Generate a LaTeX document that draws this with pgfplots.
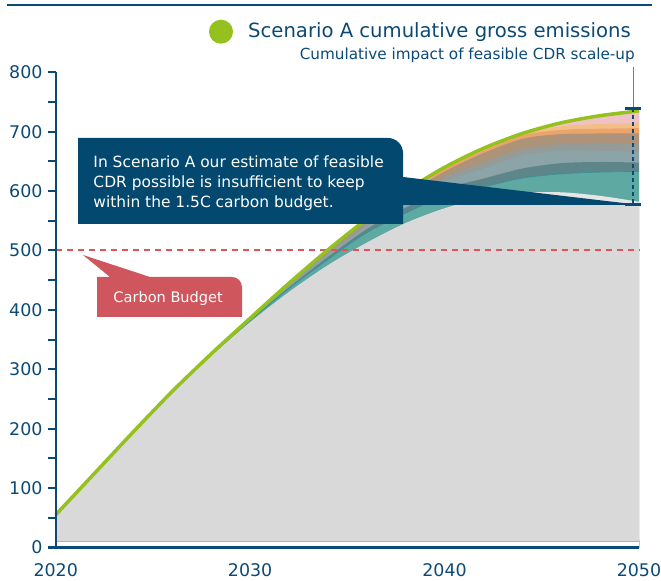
\documentclass[border=0pt]{standalone}
\usepackage{fontspec}
\setmainfont{DejaVu Sans}
\usepackage{pgfplots}
\usepackage{pgfplotstable}
\pgfplotsset{compat=1.18}
\definecolor{dblue}{HTML}{0B4A76}
\definecolor{cbox}{HTML}{03496F}
\definecolor{egreen}{HTML}{95C11F}
\definecolor{rbox}{HTML}{CF565C}
\definecolor{rdash}{HTML}{E4525A}
\definecolor{lpink}{HTML}{F0C2C5}
\definecolor{lorange}{HTML}{F3BF89}
\definecolor{morange}{HTML}{ECA46A}
\definecolor{brownl}{HTML}{AD937A}
\definecolor{grayl}{HTML}{959C97}
\definecolor{bluegray}{HTML}{8CA3A7}
\definecolor{slate}{HTML}{5E868A}
\definecolor{tealA}{HTML}{5FA9A3}
\definecolor{tealline}{HTML}{3B9296}
\definecolor{lband}{HTML}{E6E6E6}
\definecolor{bgray}{HTML}{D9D9D9}
\definecolor{thinline}{HTML}{5E82A0}
\definecolor{edgeline}{HTML}{E9EDDA}

% cumulative emissions boundaries (c9 = gross emissions, c0 = net after CDR)
\pgfplotstableread{
year c0  c1  c2  c3  c4  c5  c6  c7  c8  c9
2020 55  55  55  55  55  55  55  55  55  55
2022 125 125 125 125 125 125 125 125 125 125
2024 195 195 195 195 195 195 195 195 195 195
2026 261 261 262 262 262 262 263 263 263 263
2028 322 322 324 324 325 325 326 326 326 326
2030 379 379 382 383 384 385 386 386 386 386
2032 430 430 436 438 440 442 444 445 445 445
2034 475 475 485 489 493 496 499 500 501 501
2036 513 513 530 536 541 545 549 551 553 553
2038 546 546 563 572 580 586 593 597 600 600
2040 570 571 592 604 616 624 633 637 640 640
2042 585 588 607 621 638 648 664 668 672 672
2044 590 597 622 638 660 671 688 694 697 697
2046 589 598 629 647 668 679 696 703 709 715
2048 584 592 632 649 668 681 697 705 713 727
2050 576 582 633 648 666 680 697 706 714 735
}\cdr

\begin{document}
\begin{tikzpicture}
\path[use as bounding box] (0,0) rectangle (661bp,581bp);
\begin{axis}[
  at={(55.7bp,33.5bp)}, anchor=south west,
  scale only axis, width=583.3bp, height=475.2bp,
  xmin=2020, xmax=2050, ymin=0, ymax=800,
  axis lines*=left,
  axis line style={line width=2bp, draw=dblue},
  xtick={2020,2030,2040,2050}, ytick={0,100,...,800},
  minor ytick={50,150,...,750},
  xtick style={draw=none},
  ytick style={line width=2bp, draw=dblue},
  tick align=outside, major tick length=8bp, minor tick length=8bp,
  tick label style={font=\fontsize{17.5}{17.5}\selectfont, text=dblue},
  /pgf/number format/assume math mode=true,
  /pgf/number format/1000 sep={},
  xticklabel style={anchor=base, inner sep=0pt, yshift=-21bp},
  yticklabel style={anchor=east, inner sep=0pt, xshift=-5bp},
  clip=false, axis on top,
]
\addplot[draw=none, fill=lpink, smooth] table[x=year,y=c9]{\cdr} \closedcycle;
\addplot[draw=none, fill=lorange, smooth] table[x=year,y=c8]{\cdr} \closedcycle;
\addplot[draw=none, fill=morange, smooth] table[x=year,y=c7]{\cdr} \closedcycle;
\addplot[draw=none, fill=brownl, smooth] table[x=year,y=c6]{\cdr} \closedcycle;
\addplot[draw=none, fill=grayl, smooth] table[x=year,y=c5]{\cdr} \closedcycle;
\addplot[draw=none, fill=bluegray, smooth] table[x=year,y=c4]{\cdr} \closedcycle;
\addplot[draw=none, fill=slate, smooth] table[x=year,y=c3]{\cdr} \closedcycle;
\addplot[draw=none, fill=tealA, smooth] table[x=year,y=c2]{\cdr} \closedcycle;
\addplot[draw=none, fill=lband, smooth] table[x=year,y=c1]{\cdr} \closedcycle;
\addplot[draw=none, fill=bgray, smooth] table[x=year,y=c0]{\cdr} \closedcycle;
\addplot[draw=none, fill=white] coordinates {(2020,11) (2050,11)} \closedcycle;
\addplot[draw=black!30, line width=0.8bp] coordinates {(2020,11) (2050,11)};
\addplot[tealline, line width=0.8bp, smooth] table[x=year,y=c2]{\cdr};
\addplot[edgeline, line width=1bp] coordinates {(2050,12) (2050,735)};
\addplot[rdash, line width=2bp, dash pattern=on 6bp off 5bp] coordinates {(2020,500) (2050,500)};
\addplot[egreen, line width=3.5bp, smooth] table[x=year,y=c9]{\cdr};
\end{axis}
\begin{scope}[shift={(0,581bp)}, x=1bp, y=-1bp]
\draw[dblue, line width=1.3bp] (7,5) -- (652,5);
\fill[egreen] (221,31.7) circle (12bp);
\node[anchor=base west, inner sep=0pt, text=dblue, font=\fontsize{19.7}{20}\selectfont] at (248,37.3) {Scenario A cumulative gross emissions};
\node[anchor=base east, inner sep=0pt, text=dblue, font=\fontsize{15.3}{16}\selectfont] at (635,60) {Cumulative impact of feasible CDR scale-up};
\draw[thinline, line width=1bp] (633,67) -- (633,108);
% blue callout
\fill[cbox] (78,224) -- (78,138) [rounded corners=15bp] -- (403,138) [sharp corners] -- (403,177) -- (640,205) -- (403,205) -- (403,224) -- cycle;
\node[anchor=base west, inner sep=0pt, text=white, font=\fontsize{15.5}{16}\selectfont] at (93.3,167.3) {In Scenario A our estimate of feasible};
\node[anchor=base west, inner sep=0pt, text=white, font=\fontsize{15.5}{16}\selectfont] at (93.3,187.3) {CDR possible is insufficient to keep};
\node[anchor=base west, inner sep=0pt, text=white, font=\fontsize{15.5}{16}\selectfont] at (93.3,207.3) {within the 1.5C carbon budget.};
% bracket
\draw[dblue, line width=2bp, dash pattern=on 4bp off 3bp] (633,108.3) -- (633,205);
\draw[dblue, line width=3bp] (625,108.3) -- (641,108.3);
\draw[dblue, line width=3bp] (625,205) -- (641,205);
% red callout
\fill[rbox] (97,317) -- (97,277) -- (110,277) -- (83,255) -- (150,277) [rounded corners=10bp] -- (242,277) [sharp corners] -- (242,317) -- cycle;
\node[anchor=base west, inner sep=0pt, text=white, font=\fontsize{14.6}{15}\selectfont] at (113.3,302.7) {Carbon Budget};
\end{scope}
\end{tikzpicture}
\end{document}
